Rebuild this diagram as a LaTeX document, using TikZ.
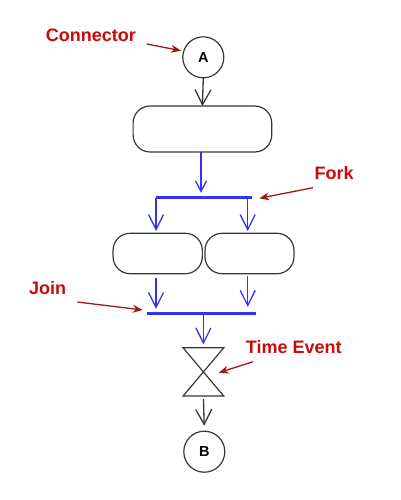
\documentclass[tikz,border=0pt]{standalone}
\usepackage{fontspec}
\setmainfont{Liberation Sans}
\usetikzlibrary{arrows.meta, positioning}
\definecolor{flowblue}{RGB}{50,50,250}
\definecolor{notered}{RGB}{200,10,10}
\definecolor{pointerred}{RGB}{160,25,25}
\definecolor{linegray}{RGB}{55,55,55}
\tikzstyle{connector} = [draw=linegray, line width=1.2pt, circle, minimum size=41pt, inner sep=0pt, outer sep=0pt, font=\fontsize{14.5}{16}\selectfont\bfseries, text=black]
\tikzstyle{action} = [draw=linegray, line width=1.2pt, rectangle, rounded corners=17pt, inner sep=0pt, outer sep=0pt]
\tikzstyle{syncbar} = [fill=flowblue, rectangle, minimum height=2.8pt, inner sep=0pt, outer sep=0pt]
\tikzstyle{note} = [text=notered, font=\fontsize{18}{20}\selectfont\bfseries, inner sep=0pt]
\tikzstyle{pointer} = [draw=pointerred, line width=1.3pt, -{Stealth[length=10pt,width=8pt]}]
\tikzstyle{flowblack} = [draw=linegray, line width=1.3pt, -{Straight Barb[length=15pt,width=16pt,line width=1.3pt]}]
\tikzstyle{flowbluearrow} = [draw=flowblue, line width=1.3pt, -{Straight Barb[length=15pt,width=15pt,line width=1.3pt]}]
\begin{document}
\begin{tikzpicture}[x=1pt, y=-1pt]
	\useasboundingbox (0,0) rectangle (400,500);
	\node [connector] (A) at (203.3,57.3) {A};
	\node [action, minimum width=138.6pt, minimum height=46pt] (top) at (202.4,129) {};
	\node [syncbar, minimum width=95.7pt] (fork) at (203.9,197.7) {};
	\node [action, minimum width=89.3pt, minimum height=40.4pt] (left) at (157.7,253.5) {};
	\node [action, minimum width=89pt, minimum height=40.4pt] (right) at (249.5,253.5) {};
	\node [syncbar, minimum width=109.6pt] (join) at (201.5,313.7) {};
	\node [minimum width=40.7pt, minimum height=48.3pt, inner sep=0pt, outer sep=0pt] (timer) at (203.4,371.9) {};
	\node [connector] (B) at (204.3,451.7) {B};
	\draw [draw=linegray, line width=1.2pt] (timer.north west) -- (timer.north east) -- (timer.south west) -- (timer.south east) -- cycle;
	% legs of the bars
	\coordinate (legL) at (156,0);
	\coordinate (legR) at (247.7,0);
	\draw [flowblack] (A.south) -- (top.north);
	\draw [flowbluearrow, -{Straight Barb[length=10.5pt,width=11pt,line width=1.3pt]}, shorten >=3.5pt] ([xshift=-1.4pt]top.south) -- ([xshift=-2.9pt]fork.north);
	\draw [flowbluearrow, shorten >=2.3pt] (fork.west) -- (fork.west |- left.north);
	\draw [flowbluearrow, shorten >=2.3pt] (fork.south -| legR) -- (left.north -| legR);
	\draw [flowbluearrow, shorten <=4.5pt, shorten >=3.4pt] (left.south -| legL) -- (join.north -| legL);
	\draw [flowbluearrow, shorten <=2.5pt, shorten >=5.4pt] (right.south -| legR) -- (join.north -| legR);
	\draw [flowbluearrow, shorten >=3.4pt] (join.south -| timer.north) -- (timer.north);
	\draw [flowblack, shorten <=3pt, shorten >=5.5pt] (timer.south) -- (B.north);
	% notes
	\node [note, anchor=west] (lblConnector) at (45.7,35) {Connector};
	\node [note, anchor=west] (lblFork) at (314.3,173.3) {Fork};
	\node [note, anchor=west] (lblJoin) at (29,288) {Join};
	\node [note, anchor=west] (lblTime) at (245.7,347) {Time Event};
	\coordinate (tailConnector) at (146.7,44);
	\coordinate (tailFork) at (313,187.7);
	\coordinate (tailJoin) at (77.3,302);
	\coordinate (tailTime) at (253,361.7);
	\draw [pointer] (tailConnector) -- ([shift={(-3,0.4)}]A.160);
	\draw [pointer] (tailFork) -- ([shift={(7.6,0.6)}]fork.east);
	\draw [pointer] (tailJoin) -- ([shift={(-4,-3.7)}]join.west);
	\draw [pointer] (tailTime) -- ([shift={(-5,0.8)}]timer.east);
\end{tikzpicture}
\end{document}
